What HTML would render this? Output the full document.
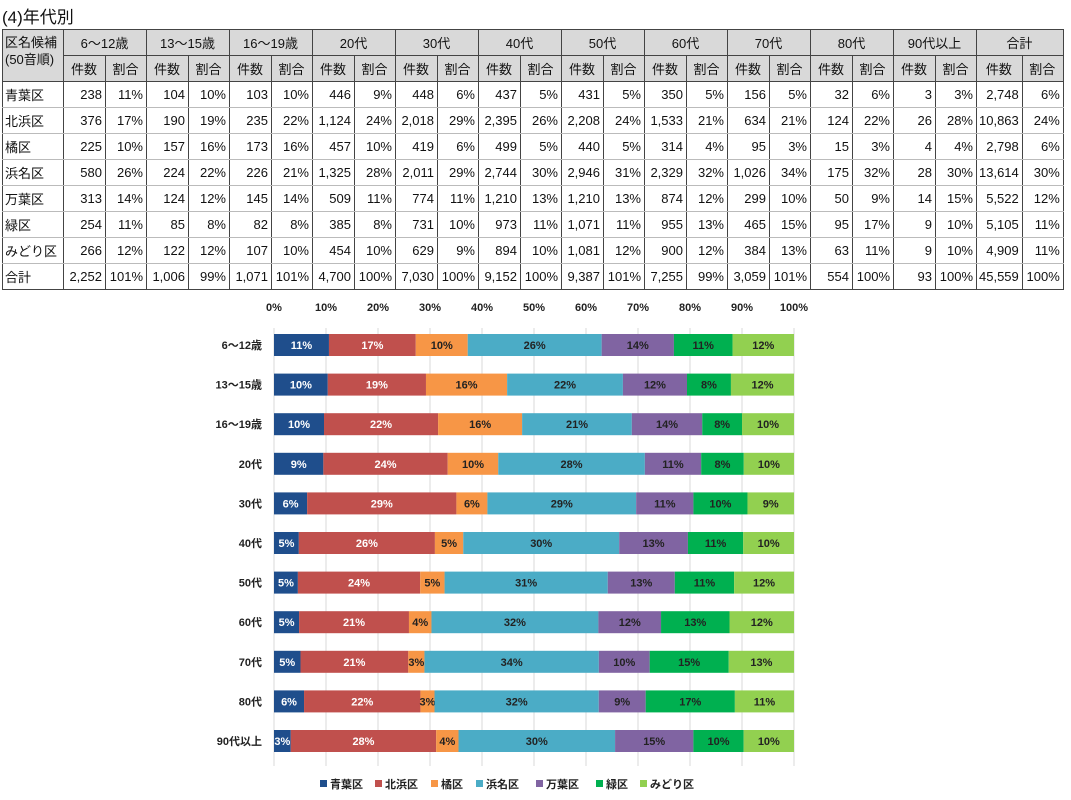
<!DOCTYPE html>
<html><head><meta charset="utf-8">
<style>
body{margin:0;background:#fff;width:1071px;height:800px;overflow:hidden;font-family:"Liberation Sans","Noto Sans CJK JP",sans-serif;}
#title{position:absolute;left:2px;top:3px;font-size:17px;color:#111;}
table{position:absolute;left:2px;top:29px;border-collapse:collapse;font-size:13px;color:#111;table-layout:fixed;}
td{border:1px solid #444;height:25px;padding:0 3px 0 2px;text-align:right;white-space:nowrap;overflow:hidden;}
tbody td{border-top:1px solid #bbb;border-bottom:1px solid #bbb;}
tr.tot td{border-top:1px solid #444;border-bottom:1px solid #444;}
thead td{background:#d9d9d9;text-align:center;}
td.n{text-align:left;}
svg{position:absolute;left:0;top:0;}
</style></head><body>
<div id="title">(4)年代別</div>
<table id="t"></table>
<svg id="s" width="1071" height="800" font-family="Liberation Sans, Noto Sans CJK JP, sans-serif"></svg>
<script>
var ages=["6～12歳","13～15歳","16～19歳","20代","30代","40代","50代","60代","70代","80代","90代以上"];
var wards=["青葉区","北浜区","橘区","浜名区","万葉区","緑区","みどり区"];
var D=[[238,376,225,580,313,254,266],[104,190,157,224,124,85,122],[103,235,173,226,145,82,107],[446,1124,457,1325,509,385,454],[448,2018,419,2011,774,731,629],[437,2395,499,2744,1210,973,894],[431,2208,440,2946,1210,1071,1081],[350,1533,314,2329,874,955,900],[156,634,95,1026,299,465,384],[32,124,15,175,50,95,63],[3,26,4,28,14,9,9]];
var P=[[11,17,10,26,14,11,12],[10,19,16,22,12,8,12],[10,22,16,21,14,8,10],[9,24,10,28,11,8,10],[6,29,6,29,11,10,9],[5,26,5,30,13,11,10],[5,24,5,31,13,11,12],[5,21,4,32,12,13,12],[5,21,3,34,10,15,13],[6,22,3,32,9,17,11],[3,28,4,30,15,10,10]];
var TOT=[2252,1006,1071,4700,7030,9152,9387,7255,3059,554,93];
var TP=[101,99,101,100,100,100,101,99,101,100,100];
var WT=[2748,10863,2798,13614,5522,5105,4909],WP=[6,24,6,30,12,11,11];
function f(n){return n.toLocaleString('en-US');}
var h='<colgroup><col style="width:61px">';
for(var i=0;i<24;i++)h+='<col style="width:'+(i%2?41:42)+'px">';
h+='</colgroup><thead><tr><td rowspan=2 class="n" style="vertical-align:top;padding-top:4px;line-height:17px">区名候補<br>(50音順)</td>';
ages.concat(["合計"]).forEach(function(a){h+='<td colspan=2>'+a+'</td>';});
h+='</tr><tr>';for(i=0;i<12;i++)h+='<td>件数</td><td>割合</td>';h+='</tr></thead><tbody>';
wards.forEach(function(w,j){h+='<tr><td class="n">'+w+'</td>';for(var a=0;a<11;a++)h+='<td>'+f(D[a][j])+'</td><td>'+P[a][j]+'%</td>';h+='<td>'+f(WT[j])+'</td><td>'+WP[j]+'%</td></tr>';});
h+='<tr class="tot"><td class="n">合計</td>';for(a=0;a<11;a++)h+='<td>'+f(TOT[a])+'</td><td>'+TP[a]+'%</td>';h+='<td>45,559</td><td>100%</td></tr></tbody>';
document.getElementById('t').innerHTML=h;
var C=["#1f4e8c","#c0504d","#f79646","#4bacc6","#8064a2","#00b050","#92d050"];
var TC=["#fff","#fff","#222","#222","#222","#222","#222"];
var x0=274,W=520,s='';
for(i=0;i<=10;i++){var x=x0+W*i/10;s+='<line x1="'+x+'" y1="328" x2="'+x+'" y2="766" stroke="#d9d9d9"/>';s+='<text x="'+x+'" y="311" font-size="11" font-weight="bold" text-anchor="middle" fill="#222">'+(i*10)+'%</text>';}
ages.forEach(function(a,r){var y=334+r*39.6;var tot=D[r].reduce(function(p,c){return p+c},0);var cx=x0;
 s+='<text x="262" y="'+(y+15)+'" font-size="11" font-weight="bold" text-anchor="end" fill="#222">'+a+'</text>';
 D[r].forEach(function(v,k){var w=W*v/tot;s+='<rect x="'+cx+'" y="'+y+'" width="'+w+'" height="22" fill="'+C[k]+'"/>';
 s+='<text x="'+(cx+w/2)+'" y="'+(y+15)+'" font-size="11" font-weight="bold" text-anchor="middle" fill="'+TC[k]+'">'+P[r][k]+'%</text>';cx+=w;});});
var lx=[320,375,431,476,536,596,640];
wards.forEach(function(w,k){s+='<rect x="'+lx[k]+'" y="780" width="7" height="7" fill="'+C[k]+'"/><text x="'+(lx[k]+10)+'" y="788" font-size="11" font-weight="bold" fill="#222">'+w+'</text>';});
document.getElementById('s').innerHTML=s;
</script>
</body></html>
